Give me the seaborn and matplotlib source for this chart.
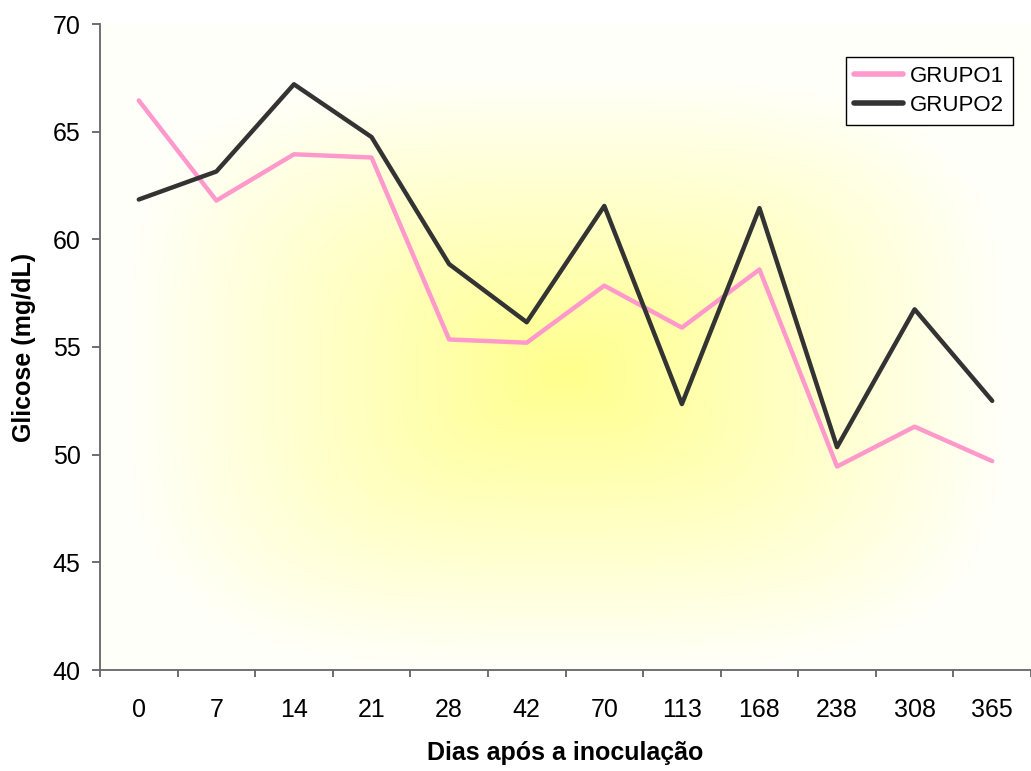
import numpy as np
import pandas as pd
import matplotlib
matplotlib.use("Agg")
import matplotlib.pyplot as plt
import seaborn as sns

# Days after inoculation (categorical axis)
dias = ["0", "7", "14", "21", "28", "42", "70", "113", "168", "238", "308", "365"]

# Mean glucose (mg/dL) per group
grupo1 = [66.45, 61.8, 63.95, 63.8, 55.35, 55.2, 57.85, 55.9, 58.6, 49.45, 51.3, 49.7]
grupo2 = [61.85, 63.15, 67.2, 64.75, 58.85, 56.15, 61.55, 52.35, 61.45, 50.35, 56.75, 52.5]

y_ticks = [40, 45, 50, 55, 60, 65, 70]

df = pd.DataFrame({
    "Dias": dias * 2,
    "Glicose": grupo1 + grupo2,
    "Grupo": ["GRUPO1"] * len(dias) + ["GRUPO2"] * len(dias),
})
df["pos"] = np.tile(np.arange(len(dias)), 2)

sns.set_theme(style="white")
plt.rcParams["font.family"] = ["Liberation Sans", "DejaVu Sans"]
plt.rcParams["text.color"] = "black"
plt.rcParams["axes.labelcolor"] = "black"
plt.rcParams["xtick.color"] = "black"
plt.rcParams["ytick.color"] = "black"

fig = plt.figure(figsize=(10.31, 7.71), dpi=100)
ax = fig.add_axes([100 / 1031, 1 - 670 / 771, 1 - 100 / 1031, (670 - 24) / 771])

# Soft yellow glow in the plotting area
nx, ny = 400, 300
u = np.linspace(-1, 1, nx)
v = np.linspace(-1, 1, ny)
U, V = np.meshgrid(u, v)
p = 3.5
d = (np.abs(U / 0.95) ** p + np.abs((V - 0.08) / 0.92) ** p) ** (1 / p)
t = np.clip(1 - d, 0, 1)
edge = np.array([255, 255, 250]) / 255
center = np.array([255, 255, 140]) / 255
img = edge[None, None, :] + (center - edge)[None, None, :] * t[:, :, None]
ax.imshow(img, extent=(-0.5, len(dias) - 0.5, 40, 70), aspect="auto",
          origin="upper", zorder=0, interpolation="bilinear")

sns.lineplot(data=df, x="pos", y="Glicose", hue="Grupo",
             palette={"GRUPO1": "#FF99CC", "GRUPO2": "#333333"},
             linewidth=3.2, ax=ax, zorder=3, sort=False)

ax.set_xlim(-0.5, len(dias) - 0.5)
ax.set_ylim(40, 70)
ax.set_yticks(y_ticks)
ax.set_xticks(np.arange(len(dias)))
ax.set_xticklabels(dias)
ax.set_xticks(np.arange(len(dias) + 1) - 0.5, minor=True)
ax.tick_params(axis="x", which="major", length=0, pad=20, labelsize=18, labelcolor="black")
ax.tick_params(axis="x", which="minor", length=5, width=1.2, color="#555555", bottom=True)
ax.tick_params(axis="y", which="major", length=6, width=1.2, color="#555555",
               pad=8, labelsize=18, left=True, labelcolor="black")

for side in ["top", "right"]:
    ax.spines[side].set_visible(False)
for side in ["left", "bottom"]:
    ax.spines[side].set_color("#666666")
    ax.spines[side].set_linewidth(1.3)

ax.set_xlabel("Dias após a inoculação", fontsize=18, fontweight="bold", labelpad=14,
              color="black")
ax.set_ylabel("Glicose (mg/dL)", fontsize=18, fontweight="bold", labelpad=12,
              color="black")

leg = ax.legend(loc="upper right", bbox_to_anchor=(1013 / 1031, 1 - 57 / 771),
                bbox_transform=fig.transFigure, frameon=True, fancybox=False,
                fontsize=16, handlelength=2.2, handletextpad=0.3,
                borderpad=0.4, labelspacing=0.35, borderaxespad=0, title=None)
leg.get_frame().set_edgecolor("black")
leg.get_frame().set_linewidth(1.0)
leg.get_frame().set_facecolor("white")
leg.get_frame().set_alpha(1)
for line in leg.get_lines():
    line.set_linewidth(4)
for text in leg.get_texts():
    text.set_color("black")

fig.savefig("out.png", dpi=100, facecolor="white")
